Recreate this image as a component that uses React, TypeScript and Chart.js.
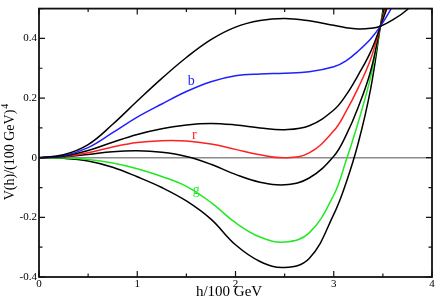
import React, { useEffect, useRef } from "react";
import { Chart, registerables } from "chart.js";

Chart.register(...registerables);

// h / 100 GeV sample positions
const hValues = [0, 0.25, 0.5, 0.75, 1, 1.25, 1.5, 1.75, 2, 2.25, 2.5, 2.75, 3, 3.125, 3.25, 3.375, 3.475, 3.6, 3.75, 4];

// V(h)/(100 GeV)^4 for each curve
const blackTop = [0, 0.010, 0.044, 0.112, 0.190, 0.266, 0.336, 0.396, 0.438, 0.460, 0.467, 0.459, 0.444, 0.436, 0.432, 0.434, 0.441, 0.462, 0.497, 0.58];
const blueB = [0, 0.007, 0.034, 0.084, 0.136, 0.180, 0.222, 0.255, 0.275, 0.281, 0.283, 0.288, 0.305, 0.325, 0.358, 0.398, 0.441, 0.51, 0.62, 0.85];
const blackSecond = [0, 0.005, 0.024, 0.052, 0.078, 0.097, 0.110, 0.115, 0.110, 0.100, 0.094, 0.107, 0.160, 0.210, 0.278, 0.355, 0.441, 0.56, 0.75, 1.1];
const redR = [0, 0.004, 0.017, 0.036, 0.051, 0.057, 0.056, 0.046, 0.028, 0.010, 0.0, 0.016, 0.090, 0.155, 0.235, 0.330, 0.441, 0.58, 0.8, 1.2];
const blackThird = [0, 0.003, 0.011, 0.020, 0.023, 0.018, 0.004, -0.022, -0.056, -0.082, -0.091, -0.068, 0.005, 0.075, 0.170, 0.290, 0.441, 0.62, 0.85, 1.3];
const greenG = [0, -0.001, -0.006, -0.018, -0.037, -0.063, -0.096, -0.150, -0.218, -0.266, -0.283, -0.252, -0.125, -0.010, 0.120, 0.270, 0.441, 0.66, 0.95, 1.4];
const blackBottom = [0, -0.002, -0.011, -0.032, -0.064, -0.100, -0.145, -0.206, -0.292, -0.348, -0.368, -0.338, -0.190, -0.085, 0.050, 0.230, 0.441, 0.7, 1.0, 1.5];

// axis ranges & tick labels
const xMin = 0, xMax = 4, xMajor = [0, 1, 2, 3, 4], xMinorStep = 0.5;
const yMin = -0.4, yMax = 0.5, yMajor = [-0.4, -0.2, 0, 0.2, 0.4], yMinorStep = 0.1;

// curve annotations (data coordinates)
const curveLabels = [
  { text: "b", h: 1.55, v: 0.256, color: "#1f1fff" },
  { text: "r", h: 1.58, v: 0.074, color: "#ff2020" },
  { text: "g", h: 1.6, v: -0.108, color: "#22e822" },
];

const xTitle = "h/100 GeV";
const yTitle = "V(h)/(100 GeV)";
const yTitleSup = "4";

const SERIF = "'Liberation Serif', 'Times New Roman', serif";

function series(values: number[]) {
  return values.map((v, i) => ({ x: hValues[i], y: v }));
}

const decorPlugin = {
  id: "decor",
  beforeDatasetsDraw(chart: any) {
    const { ctx, chartArea, scales } = chart;
    const y0 = scales.y.getPixelForValue(0);
    ctx.save();
    ctx.strokeStyle = "#8c8c8c";
    ctx.lineWidth = 1.5;
    ctx.beginPath();
    ctx.moveTo(chartArea.left, y0);
    ctx.lineTo(chartArea.right, y0);
    ctx.stroke();
    ctx.restore();
  },
  afterDraw(chart: any) {
    const { ctx, chartArea, scales } = chart;
    const { left, right, top, bottom } = chartArea;
    ctx.save();
    // frame
    ctx.strokeStyle = "#111";
    ctx.lineWidth = 1.8;
    ctx.strokeRect(left, top, right - left, bottom - top);
    // inward ticks
    ctx.lineWidth = 1.2;
    ctx.beginPath();
    for (let k = 0; k <= Math.round((xMax - xMin) / xMinorStep); k++) {
      const v = xMin + k * xMinorStep;
      const px = scales.x.getPixelForValue(v);
      const len = xMajor.some((m) => Math.abs(m - v) < 1e-9) ? 6 : 3.5;
      ctx.moveTo(px, bottom);
      ctx.lineTo(px, bottom - len);
      ctx.moveTo(px, top);
      ctx.lineTo(px, top + len);
    }
    for (let k = 0; k <= Math.round((yMax - yMin) / yMinorStep); k++) {
      const v = yMin + k * yMinorStep;
      const py = scales.y.getPixelForValue(v);
      const len = yMajor.some((m) => Math.abs(m - v) < 1e-9) ? 6 : 3.5;
      ctx.moveTo(left, py);
      ctx.lineTo(left + len, py);
      ctx.moveTo(right, py);
      ctx.lineTo(right - len, py);
    }
    ctx.stroke();

    // curve labels
    ctx.font = `14px ${SERIF}`;
    ctx.textAlign = "center";
    ctx.textBaseline = "middle";
    for (const l of curveLabels) {
      ctx.fillStyle = l.color;
      ctx.fillText(l.text, scales.x.getPixelForValue(l.h), scales.y.getPixelForValue(l.v));
    }

    // x title
    ctx.fillStyle = "#000";
    ctx.font = `15px ${SERIF}`;
    ctx.textAlign = "center";
    ctx.textBaseline = "alphabetic";
    ctx.fillText(xTitle, 229, 296);

    // y title with superscript
    ctx.font = `14px ${SERIF}`;
    const wMain = ctx.measureText(yTitle).width;
    ctx.font = `10px ${SERIF}`;
    const wSup = ctx.measureText(yTitleSup).width;
    const total = wMain + wSup + 1;
    ctx.translate(13.5, 152);
    ctx.rotate(-Math.PI / 2);
    ctx.textAlign = "left";
    ctx.font = `14px ${SERIF}`;
    ctx.fillText(yTitle, -total / 2, 0);
    ctx.font = `10px ${SERIF}`;
    ctx.fillText(yTitleSup, -total / 2 + wMain + 1, -6);
    ctx.restore();
  },
};

export default function App() {
  const ref = useRef<HTMLCanvasElement | null>(null);
  useEffect(() => {
    if (!ref.current) return;
    const mk = (data: number[], color: string) => ({
      data: series(data),
      borderColor: color,
      borderWidth: 1.5,
      pointRadius: 0,
      fill: false,
      tension: 0.4,
    });
    const chart = new Chart(ref.current, {
      type: "line",
      data: {
        datasets: [
          mk(blackTop, "#000"),
          mk(blueB, "#1f1fff"),
          mk(blackSecond, "#000"),
          mk(redR, "#ff2020"),
          mk(blackThird, "#000"),
          mk(greenG, "#22e822"),
          mk(blackBottom, "#000"),
        ],
      },
      options: {
        animation: false,
        responsive: false,
        maintainAspectRatio: false,
        layout: { padding: { top: 2, right: 4, left: 0, bottom: 0 } },
        plugins: { legend: { display: false }, tooltip: { enabled: false } },
        scales: {
          x: {
            type: "linear",
            min: xMin,
            max: xMax,
            grid: { display: false, drawTicks: false },
            border: { display: false },
            ticks: {
              stepSize: 1,
              autoSkip: false,
              maxRotation: 0,
              padding: 1,
              color: "#000",
              font: { family: SERIF, size: 11 },
              callback: (v: any) => (xMajor.some((m) => Math.abs(m - Number(v)) < 1e-9) ? String(Math.round(Number(v))) : ""),
            },
            afterFit: (s: any) => {
              s.height = 23;
            },
          },
          y: {
            min: yMin,
            max: yMax,
            grid: { display: false, drawTicks: false },
            border: { display: false },
            ticks: {
              stepSize: 0.1,
              autoSkip: false,
              padding: 2,
              color: "#000",
              font: { family: SERIF, size: 11 },
              callback: (v: any) => {
                const n = Number(v);
                const m = yMajor.find((q) => Math.abs(q - n) < 1e-9);
                return m === undefined ? "" : String(m);
              },
            },
            afterFit: (s: any) => {
              s.width = 39;
            },
          },
        },
      },
      plugins: [decorPlugin],
    });
    return () => chart.destroy();
  }, []);
  return (
    <div style={{ position: "fixed", left: 0, top: 0, width: 436, height: 300, background: "#fff" }}>
      <canvas ref={ref} width={436} height={300} style={{ width: 436, height: 300, display: "block" }} />
    </div>
  );
}
